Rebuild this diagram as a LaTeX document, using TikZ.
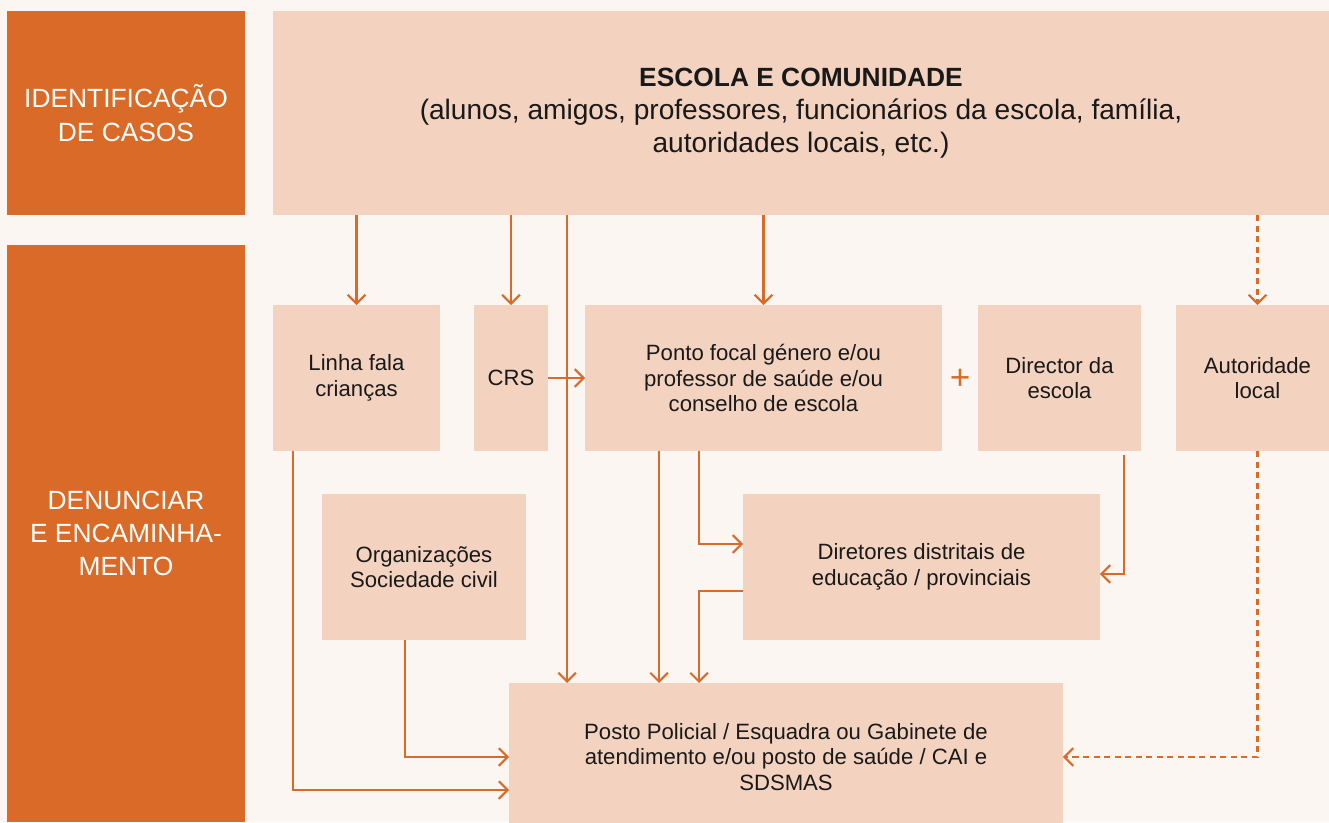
\documentclass[tikz,border=0pt]{standalone}
\usepackage{fontspec}
\setmainfont{Liberation Sans}
\usepackage{xcolor}
\usepackage{tikz}
\usetikzlibrary{arrows.meta}
\definecolor{laranja}{HTML}{D96A28}
\definecolor{pessego}{HTML}{F3D3C0}
\definecolor{fundo}{HTML}{FBF6F2}
\tikzstyle{stage} = [rectangle, inner sep=0pt, outer sep=0pt, minimum width=4.76cm, align=center, fill=laranja, text=white, font=\fontsize{15}{19}\selectfont]
\tikzstyle{process} = [rectangle, inner sep=0pt, outer sep=0pt, minimum height=2.92cm, align=center, fill=pessego, text=black!90, font=\fontsize{12.6}{14.7}\selectfont]
\tikzset{
  arrow/.style={line width=1.2pt, draw=laranja, -{Straight Barb[length=5pt,width=10pt]}},
  maybe/.style={arrow, dash pattern=on 3.5pt off 2.5pt},
}

\begin{document}
\begin{tikzpicture}[x=0.02cm, y=-0.02cm]
\useasboundingbox (0,0) rectangle (1329,822);
\clip (0,0) rectangle (1329,822);
\fill[fundo] (0,0) rectangle (1329,822);

\node (ident) [stage, minimum height=4.08cm] at (126,113) {IDENTIFICAÇÃO\\DE CASOS};
\node (denun) [stage, minimum height=11.54cm] at (126,533.5) {DENUNCIAR\\E ENCAMINHA-\\MENTO};

\node (escola) [process, minimum width=21.12cm, minimum height=4.08cm, font=\fontsize{16}{18.7}\selectfont] at (801,113) {{\fontsize{15}{18.7}\selectfont\bfseries ESCOLA E COMUNIDADE}\\(alunos, amigos, professores, funcionários da escola, família,\\autoridades locais, etc.)};

\node (linha) [process, minimum width=3.34cm] at (356.5,378) {Linha fala\\crianças};
\node (crs) [process, minimum width=1.48cm] at (511,378) {CRS};
\node (ponto) [process, minimum width=7.14cm] at (763.5,378) {Ponto focal género e/ou\\professor de saúde e/ou\\conselho de escola};
\node (plus) [text=laranja, font=\fontsize{20}{20}\selectfont] at (960,379) {+};
\node (director) [process, minimum width=3.26cm] at (1059.5,378) {Director da\\escola};
\node (autor) [process, minimum width=3.26cm] at (1257.5,378) {Autoridade\\local};
\node (org) [process, minimum width=4.08cm] at (424,567) {Organizações\\Sociedade civil};
\node (dir) [process, minimum width=7.14cm] at (921.5,567) {Diretores distritais de\\educação / provinciais};
\node (posto) [process, minimum width=11.08cm, minimum height=2.96cm] at (786,757) {Posto Policial / Esquadra ou Gabinete de\\atendimento e/ou posto de saúde / CAI e\\SDSMAS};

% from the school
\draw [arrow] (escola.south -| linha.north) -- (linha.north);
\draw [arrow] (escola.south -| crs.north) -- (crs.north);
\draw [arrow] (escola.south -| ponto.north) -- (ponto.north);
\draw [maybe] (escola.south -| autor.north) -- (autor.north);
\path (posto.north west) ++(58,0) coordinate (p1);
\draw [arrow] (escola.south -| p1) -- (p1);

\draw [arrow] (crs) -- (ponto);
\path (linha.south west) ++(20,0) coordinate (l1);
\path (posto.west) ++(0,33) coordinate (p2);
\draw [arrow] (l1) |- (p2);
\path (org.south west) ++(83,0) coordinate (o1);
\draw [arrow] (o1) |- (posto.west);
\path (ponto.south west) ++(74,0) coordinate (q1);
\draw [arrow] (q1) -- (q1 |- posto.north);
\path (ponto.south west) ++(114,0) coordinate (q2);
\path (dir.west) ++(0,-23) coordinate (d1);
\draw [arrow] (q2) |- (d1);
\path (dir.west) ++(0,24) coordinate (d2);
\draw [arrow] (d2) -| (q2 |- posto.north);
\path (director.south east) ++(-17,4) coordinate (r1);
\path (dir.east) ++(0,7) coordinate (d3);
\draw [arrow] (r1) |- (d3);
\draw [maybe] (autor.south) |- (posto.east);
\end{tikzpicture}
\end{document}
